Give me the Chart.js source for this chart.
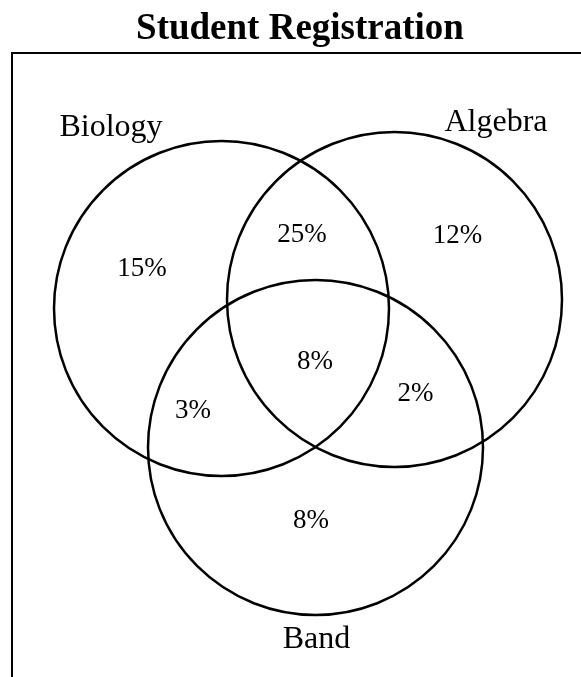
<!DOCTYPE html>
<html>
<head>
<meta charset="utf-8">
<script src="https://cdn.jsdelivr.net/npm/chart.js@4/dist/chart.umd.min.js"></script>
<style>
  html, body { margin: 0; padding: 0; background: #ffffff; }
  canvas { display: block; }
</style>
</head>
<body>
<canvas id="c" width="581" height="677"></canvas>
<script>
// ---- Data (diagram units, origin at top-left corner of the frame) ----
const chartTitle = 'Student Registration';
const setNames = ['Biology', 'Algebra', 'Band'];
const setCenterX = [209.5, 382.5, 303.5];
const setCenterY = [255.5, 246.5, 394.5];
const setRadius = [167.5, 167.5, 167.5];
const setLabelX = [99, 484, 304.5];
const setLabelY = [75, 70, 587];

const regionLabels = ['15%', '25%', '12%', '3%', '8%', '2%', '8%'];
const regionX = [130, 290, 445.5, 181, 303, 403.5, 299];
const regionY = [216, 182, 183, 358, 309, 341, 468];

const FONT = "'Liberation Serif', 'Times New Roman', Times, serif";

const circleData = setNames.map((n, i) => ({ x: setCenterX[i], y: setCenterY[i], r: setRadius[i], name: n }));
const nameData = setNames.map((n, i) => ({ x: setLabelX[i], y: setLabelY[i], text: n }));
const regionData = regionLabels.map((t, i) => ({ x: regionX[i], y: regionY[i], text: t }));

function radiusPx(ctx) {
  const sx = ctx.chart.scales.x;
  const raw = ctx.raw;
  if (!raw || !sx) return 0;
  return Math.abs(sx.getPixelForValue(raw.r) - sx.getPixelForValue(0));
}

const framePlugin = {
  id: 'frame',
  beforeDatasetsDraw(chart) {
    const { ctx, chartArea } = chart;
    ctx.save();
    ctx.strokeStyle = '#000';
    ctx.lineWidth = 2;
    ctx.beginPath();
    ctx.moveTo(chartArea.left, chartArea.bottom + 5);
    ctx.lineTo(chartArea.left, chartArea.top);
    ctx.lineTo(chartArea.right + 5, chartArea.top);
    ctx.stroke();
    ctx.restore();
  }
};

const textPlugin = {
  id: 'vennText',
  afterDatasetsDraw(chart) {
    const ctx = chart.ctx;
    ctx.save();
    ctx.fillStyle = '#000';
    ctx.textAlign = 'center';
    ctx.textBaseline = 'middle';
    chart.data.datasets.forEach((ds, di) => {
      if (!ds.textSize) return;
      const meta = chart.getDatasetMeta(di);
      ctx.font = ds.textSize + 'px ' + FONT;
      meta.data.forEach((el, i) => {
        ctx.fillText(ds.data[i].text, el.x, el.y);
      });
    });
    // Title
    ctx.font = 'bold 37px ' + FONT;
    const ca = chart.chartArea;
    ctx.fillText(chartTitle, ca.left + 288, ca.top - 24);
    ctx.restore();
  }
};

new Chart(document.getElementById('c'), {
  type: 'scatter',
  data: {
    datasets: [
      {
        label: 'Sets',
        data: circleData,
        pointStyle: 'circle',
        pointRadius: radiusPx,
        pointHoverRadius: radiusPx,
        backgroundColor: 'rgba(0,0,0,0)',
        borderColor: '#000',
        borderWidth: 2.5,
        pointBorderWidth: 2.5,
        clip: false
      },
      {
        label: 'Set names',
        data: nameData,
        pointRadius: 0,
        pointHoverRadius: 0,
        textSize: 32,
        clip: false
      },
      {
        label: 'Regions',
        data: regionData,
        pointRadius: 0,
        pointHoverRadius: 0,
        textSize: 27,
        clip: false
      }
    ]
  },
  options: {
    responsive: false,
    maintainAspectRatio: false,
    animation: false,
    events: [],
    layout: { padding: { top: 53, left: 12, right: 0, bottom: 0 } },
    plugins: {
      legend: { display: false },
      tooltip: { enabled: false },
      title: { display: false }
    },
    scales: {
      x: { type: 'linear', min: 0, max: 569, display: false },
      y: { type: 'linear', min: 0, max: 624, reverse: true, display: false }
    }
  },
  plugins: [framePlugin, textPlugin]
});
</script>
</body>
</html>
